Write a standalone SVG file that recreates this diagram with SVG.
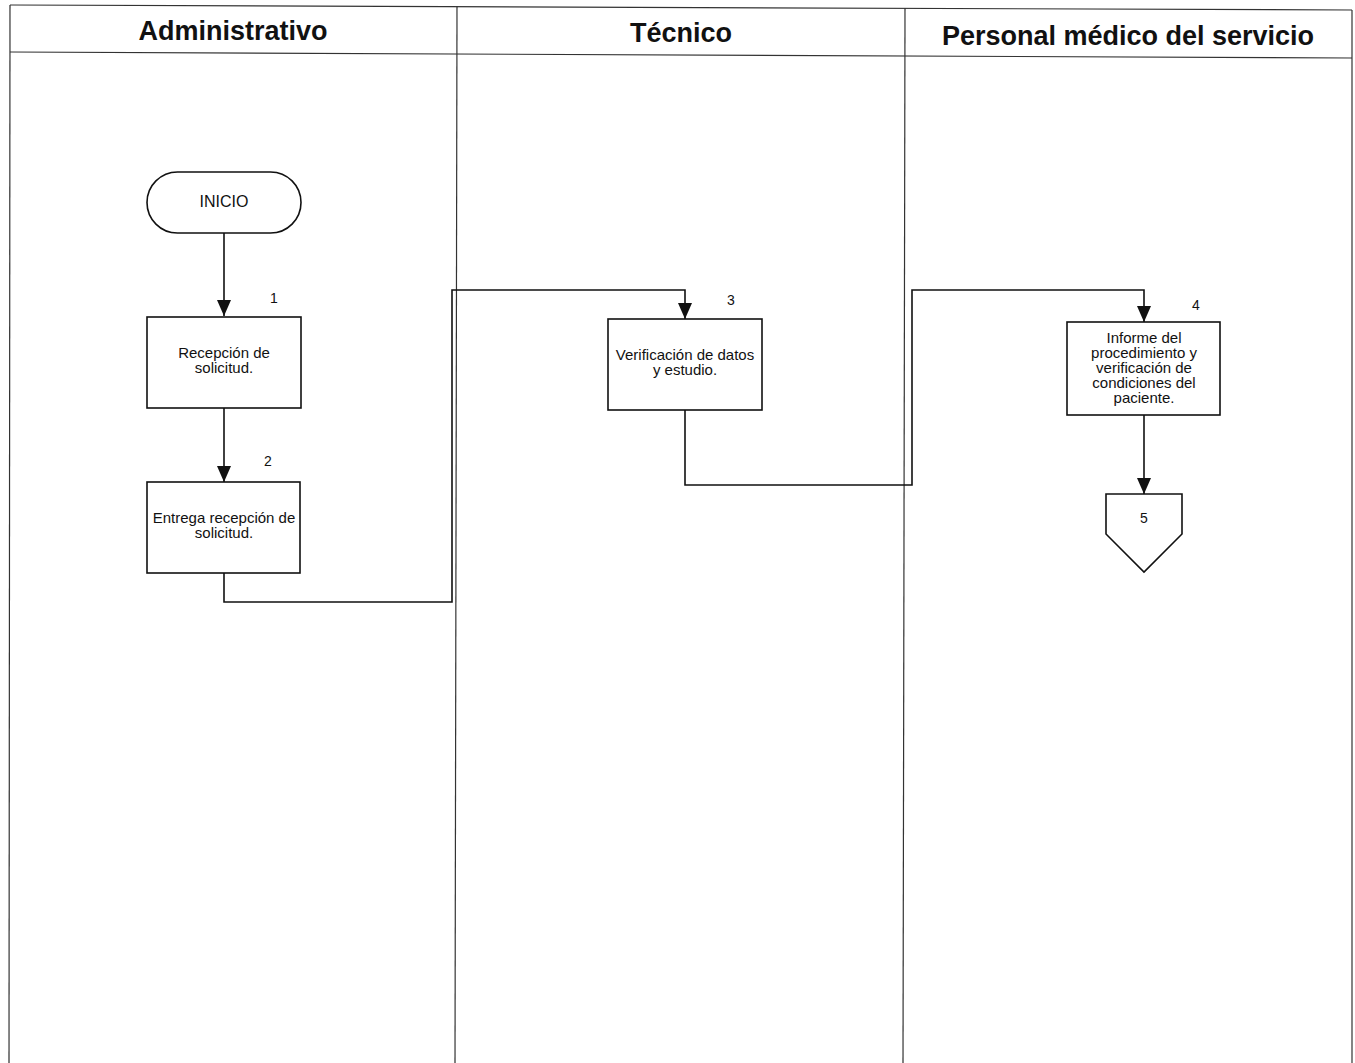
<svg xmlns="http://www.w3.org/2000/svg" width="1355" height="1063" viewBox="0 0 1355 1063">
<style>
  .frame{fill:none;stroke:#333;stroke-width:1.2}
  .title{font-family:"Liberation Sans",Arial,sans-serif;font-weight:bold;font-size:27px;fill:#111;text-anchor:middle}
  .node{fill:#fff;stroke:#111;stroke-width:1.6}
  .txt{font-family:"Liberation Sans",Arial,sans-serif;font-size:15px;fill:#111;text-anchor:middle}
  .num{font-family:"Liberation Sans",Arial,sans-serif;font-size:14px;fill:#111;text-anchor:middle}
  .conn{fill:none;stroke:#111;stroke-width:1.6}
</style>
<defs>
  <marker id="ah" markerWidth="16" markerHeight="14" refX="16" refY="7" orient="auto" markerUnits="userSpaceOnUse" viewBox="0 0 16 14">
    <path d="M0,0 L16,7 L0,14 Z" fill="#111"/>
  </marker>
</defs>
<rect width="1355" height="1063" fill="#fff"/>
<g id="lanes">
  <path class="frame" d="M10,5 L1352,10"/>
  <path class="frame" d="M10,52 L1352,58"/>
  <path class="frame" d="M10,5 L9,1063"/>
  <path class="frame" d="M1352,10 L1352,1063"/>
  <path class="frame" d="M457,6 L455,1063"/>
  <path class="frame" d="M905,8 L903,1063"/>
  <text class="title" x="233" y="40">Administrativo</text>
  <text class="title" x="681" y="42">Técnico</text>
  <text class="title" x="1128" y="45">Personal médico del servicio</text>
</g>
<g id="connectors">
  <path class="conn" d="M224,233 L224,316" marker-end="url(#ah)"/>
  <path class="conn" d="M224,408 L224,482" marker-end="url(#ah)"/>
  <path class="conn" d="M224,573 L224,602 L452,602 L452,290 L685,290 L685,319" marker-end="url(#ah)"/>
  <path class="conn" d="M685,410 L685,485 L912,485 L912,290 L1144,290 L1144,322" marker-end="url(#ah)"/>
  <path class="conn" d="M1144,415 L1144,494" marker-end="url(#ah)"/>
</g>
<g id="inicio">
  <rect class="node" x="147" y="172" width="154" height="61" rx="30.5" ry="30.5"/>
  <text class="txt" x="224" y="207" style="font-size:16px">INICIO</text>
</g>
<g id="n1">
  <text class="num" x="274" y="303">1</text>
  <rect class="node" x="147" y="317" width="154" height="91"/>
  <text class="txt" x="224" y="358">Recepción de</text>
  <text class="txt" x="224" y="373">solicitud.</text>
</g>
<g id="n2">
  <text class="num" x="268" y="466">2</text>
  <rect class="node" x="147" y="482" width="153" height="91"/>
  <text class="txt" x="224" y="523">Entrega recepción de</text>
  <text class="txt" x="224" y="538">solicitud.</text>
</g>
<g id="n3">
  <text class="num" x="731" y="305">3</text>
  <rect class="node" x="608" y="319" width="154" height="91"/>
  <text class="txt" x="685" y="360">Verificación de datos</text>
  <text class="txt" x="685" y="375">y estudio.</text>
</g>
<g id="n4">
  <text class="num" x="1196" y="310">4</text>
  <rect class="node" x="1067" y="322" width="153" height="93"/>
  <text class="txt" x="1144" y="343">Informe del</text>
  <text class="txt" x="1144" y="358">procedimiento y</text>
  <text class="txt" x="1144" y="373">verificación de</text>
  <text class="txt" x="1144" y="388">condiciones del</text>
  <text class="txt" x="1144" y="403">paciente.</text>
</g>
<g id="n5">
  <path class="node" d="M1106,494 L1182,494 L1182,534 L1144,572 L1106,534 Z"/>
  <text class="num" x="1144" y="523">5</text>
</g>
</svg>
